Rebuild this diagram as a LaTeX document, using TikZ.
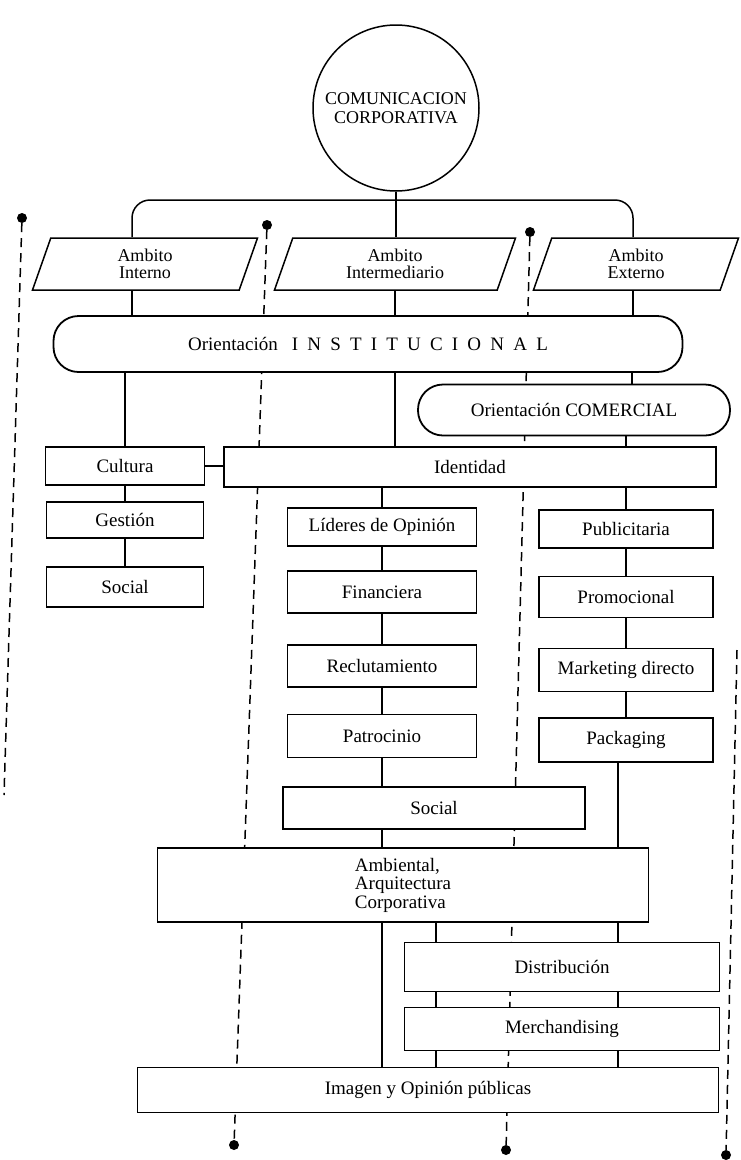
\documentclass[tikz,border=0pt]{standalone}
\usepackage{fontspec}
\setmainfont{Liberation Serif}
\usetikzlibrary{shapes.geometric,positioning}
\newcommand{\lsp}{\hspace{9.2pt}}
\tikzset{
  basebox/.style={rectangle,draw=black,fill=white,line width=1.5pt,align=center,inner sep=2pt,font=\fontsize{19}{18.5}\selectfont},
  ambnode/.style={trapezium,trapezium left angle=60,trapezium right angle=120,trapezium stretches body,draw=black,fill=white,line width=1.5pt,align=center,inner sep=1pt,minimum height=52pt,font=\fontsize{18}{17}\selectfont},
  orinode/.style={basebox,rounded corners=25pt,line width=1.8pt},
  circnode/.style={circle,draw=black,fill=white,line width=1.5pt,minimum size=166pt,align=center,inner sep=0pt,font=\fontsize{18}{19}\selectfont},
  link/.style={line width=1.5pt},
  dashlink/.style={line width=1.5pt,dash pattern=on 9pt off 6pt},
  dotnode/.style={circle,fill=black,inner sep=0pt,minimum size=10pt}
}
\begin{document}
\begin{tikzpicture}[x=1pt,y=-1pt]
  \useasboundingbox (0,0) rectangle (741,1160);

  % dashed guides, drawn first so the boxes hide them
  \node[dotnode] (d1t) at (22,218) {};
  \coordinate (d1b) at (4,795);
  \node[dotnode] (d2t) at (267,225) {};
  \node[dotnode] (d2b) at (234,1145) {};
  \node[dotnode] (d3t) at (530,232) {};
  \node[dotnode] (d3b) at (506,1150) {};
  \coordinate (d4t) at (737,650);
  \node[dotnode] (d4b) at (726,1155) {};
  \draw[dashlink] (d1t) -- (d1b);
  \draw[dashlink] (d2t) -- (d2b);
  \draw[dashlink] (d3t) -- (d3b);
  \draw[dashlink] (d4t) -- (d4b);

  % top
  \node[circnode] (corp) at (396,108) {COMUNICACION\\CORPORATIVA};
  \coordinate (bar) at (395,200);
  \node[ambnode,minimum width=225pt] (amb1) at (145,264) {Ambito\\Interno};
  \node[ambnode,minimum width=241pt] (amb2) at (395,264) {Ambito\\Intermediario};
  \node[ambnode,minimum width=205pt] (amb3) at (636,264) {Ambito\\Externo};

  \node[orinode,minimum width=629pt,minimum height=56pt] (inst) at (368,344)
      {Orientación\hspace{14pt}I\lsp N\lsp S\lsp T\lsp I\lsp T\lsp U\lsp C\lsp I\lsp O\lsp N\lsp A\lsp L};
  \node[orinode,minimum width=312pt,minimum height=51pt] (com) at (574,410) {Orientación COMERCIAL};

  % second level
  \node[basebox,minimum width=159pt,minimum height=38pt] (cult) at (125,466) {Cultura};
  \node[basebox,minimum width=492pt,minimum height=40pt] (iden) at (470,467) {Identidad};
  \node[basebox,minimum width=157pt,minimum height=36pt] (gest) at (125,520) {Gestión};
  \node[basebox,minimum width=157pt,minimum height=40pt] (socl) at (125,587) {Social};

  \node[basebox,minimum width=189pt,minimum height=38pt] (lid) at (382,527) {Líderes de Opinión};
  \node[basebox,minimum width=189pt,minimum height=42pt] (fin) at (382,592) {Financiera};
  \node[basebox,minimum width=189pt,minimum height=42pt] (recl) at (382,666) {Reclutamiento};
  \node[basebox,minimum width=189pt,minimum height=43pt] (patr) at (382,736) {Patrocinio};
  \node[basebox,minimum width=302pt,minimum height=42pt] (socm) at (434,808) {Social};

  \node[basebox,minimum width=174pt,minimum height=38pt] (pub) at (626,529) {Publicitaria};
  \node[basebox,minimum width=174pt,minimum height=41pt] (prom) at (626,597) {Promocional};
  \node[basebox,minimum width=174pt,minimum height=43pt] (mkt) at (626,670) {Marketing directo};
  \node[basebox,minimum width=174pt,minimum height=44pt] (pack) at (626,740) {Packaging};

  % bottom
  \node[basebox,minimum width=491pt,minimum height=74pt,align=left] (arq) at (403,885)
      {Ambiental,\\Arquitectura\\Corporativa};
  \node[basebox,minimum width=315pt,minimum height=49pt] (dist) at (562,967) {Distribución};
  \node[basebox,minimum width=315pt,minimum height=43pt] (merch) at (562,1029) {Merchandising};
  \node[basebox,minimum width=581pt,minimum height=45pt] (img) at (428,1090) {Imagen y Opinión públicas};

  % connectors
  \draw[link] (corp.south) -- (corp.south |- amb2.north);
  \draw[link,rounded corners=18pt] ([xshift=-13pt]amb1.north) |- (bar) -| ([xshift=-3pt]amb3.north);
  \draw[link] ([xshift=-13pt]amb1.south) -- ([xshift=-13pt]amb1.south |- inst.north);
  \draw[link] (amb2.south) -- (amb2.south |- inst.north);
  \draw[link] ([xshift=-3pt]amb3.south) -- ([xshift=-3pt]amb3.south |- inst.north);
  \draw[link] (cult.north |- inst.south) -- (cult.north);
  \draw[link] (amb2.south |- inst.south) -- (amb2.south |- iden.north);
  \draw[link] ([xshift=-4pt]amb3.south |- inst.south) -- ([xshift=-4pt]amb3.south |- com.north);
  \draw[link] (pub.north |- com.south) -- (pub.north |- iden.north);
  \draw[link] (cult.east) -- (cult.east -| iden.west);
  \draw[link] (cult) -- (gest);
  \draw[link] (gest) -- (socl);
  \draw[link] (lid.north |- iden.south) -- (lid.north);
  \draw[link] (lid) -- (fin);
  \draw[link] (fin) -- (recl);
  \draw[link] (recl) -- (patr);
  \draw[link] (patr.south) -- (patr.south |- socm.north);
  \draw[link] (patr.south |- socm.south) -- (patr.south |- arq.north);
  \draw[link] (patr.south |- arq.south) -- (patr.south |- img.north);
  \draw[link] (pub.north |- iden.south) -- (pub.north);
  \draw[link] (pub) -- (prom);
  \draw[link] (prom) -- (mkt);
  \draw[link] (mkt) -- (pack);
  \draw[link] ([xshift=-8pt]pack.south) -- ([xshift=-8pt]pack.south |- arq.north);
  \foreach \a/\b in {arq/dist,dist/merch,merch/img}{
    \draw[link] ([xshift=32pt]dist.west |- \a.south) -- ([xshift=32pt]dist.west |- \b.north);
    \draw[link] ([xshift=-8pt]pack.south |- \a.south) -- ([xshift=-8pt]pack.south |- \b.north);
  }
\end{tikzpicture}
\end{document}
